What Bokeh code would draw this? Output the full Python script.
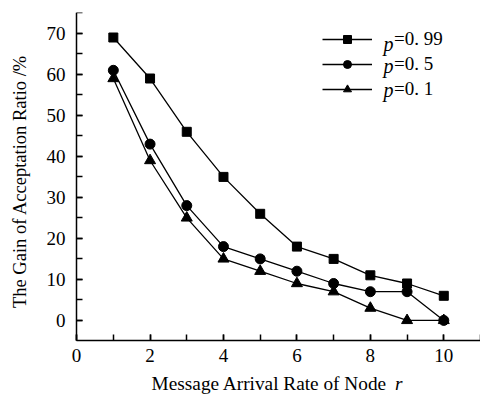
import math
from bokeh.plotting import figure
from bokeh.models import (Range1d, SingleIntervalTicker, Legend, LegendItem, Label)
from bokeh.embed import file_html
from bokeh.resources import INLINE

rates = [1, 2, 3, 4, 5, 6, 7, 8, 9, 10]
gain_p099 = [69, 59, 46, 35, 26, 18, 15, 11, 9, 6]
gain_p05 = [61, 43, 28, 18, 15, 12, 9, 7, 7, 0]
gain_p01 = [59, 39, 25, 15, 12, 9, 7, 3, 0, 0]
legend_values = ["=0. 99", "=0. 5", "=0. 1"]
x_label = "Message Arrival Rate of Node "
y_label = "The Gain of Acceptation Ratio /%"

FONT = "Liberation Serif"
Y_LOW, Y_HIGH = -4.9, 75.1
X_LOW, X_HIGH = 0, 11

p = figure(width=480, height=398, output_backend="svg", toolbar_location=None,
           x_range=Range1d(-2.073, X_HIGH), y_range=Range1d(-19.05, Y_HIGH),
           min_border_left=0, min_border_right=0, min_border_top=12, min_border_bottom=0)
p.outline_line_color = None
p.grid.visible = False
p.background_fill_color = "white"

p.xaxis.fixed_location = Y_LOW
p.yaxis.fixed_location = X_LOW
p.xaxis.bounds = (X_LOW, X_HIGH)
p.yaxis.bounds = (Y_LOW, Y_HIGH)
p.xaxis.ticker = SingleIntervalTicker(interval=2, num_minor_ticks=2)
p.yaxis.ticker = SingleIntervalTicker(interval=10, num_minor_ticks=2)
for ax in (p.xaxis, p.yaxis):
    ax.major_tick_in = 6
    ax.major_tick_out = 0
    ax.minor_tick_in = 6
    ax.minor_tick_out = 0
    ax.axis_line_width = 1.5
    ax.major_tick_line_width = 1.5
    ax.minor_tick_line_width = 1.5
    ax.major_label_text_font = FONT
    ax.major_label_text_font_size = "19px"
    ax.major_label_text_color = "black"
    ax.axis_line_color = "black"
    ax.major_tick_line_color = "black"
    ax.minor_tick_line_color = "black"
p.xaxis.major_label_standoff = 9
p.yaxis.major_label_standoff = 11

lw = 1.3
r1l = p.line(rates, gain_p099, color="black", line_width=lw)
r1m = p.scatter(rates, gain_p099, marker="square", size=9, color="black")
r2l = p.line(rates, gain_p05, color="black", line_width=lw)
r2m = p.scatter(rates, gain_p05, marker="circle", size=10, color="black")
r3l = p.line(rates, gain_p01, color="black", line_width=lw)
r3m = p.scatter(rates, gain_p01, marker="triangle", size=11, color="black")

legend = Legend(items=[
    LegendItem(label=legend_values[0], renderers=[r1l, r1m]),
    LegendItem(label=legend_values[1], renderers=[r2l, r2m]),
    LegendItem(label=legend_values[2], renderers=[r3l, r3m]),
], location="top_left", glyph_width=50, glyph_height=20, label_height=20,
    spacing=3, padding=0, margin=0, border_line_color=None,
    background_fill_alpha=0, label_standoff=22,
    label_text_font=FONT, label_text_font_size="19px", label_text_color="black")
legend.location = (322, 298)
p.add_layout(legend)

for yv in (67.3, 62.0, 56.3):
    p.add_layout(Label(x=8.36, y=yv, text="p", text_font=FONT, text_color="black",
                       text_font_style="italic", text_font_size="20px",
                       text_baseline="middle", text_align="left"))

p.add_layout(Label(x=8.59, y=-15.4, text=x_label, text_font=FONT, text_color="black",
                   text_font_size="19.3px", text_baseline="middle", text_align="right"))
p.add_layout(Label(x=8.67, y=-15.4, text="r", text_font=FONT, text_color="black",
                   text_font_style="italic", text_font_size="19.3px",
                   text_baseline="middle", text_align="left"))
p.add_layout(Label(x=-1.554, y=33.9, text=y_label, text_font=FONT, text_color="black",
                   text_font_size="18.5px", text_baseline="middle", text_align="center",
                   angle=math.pi / 2))

open("out.html", "w").write(file_html(p, INLINE))
